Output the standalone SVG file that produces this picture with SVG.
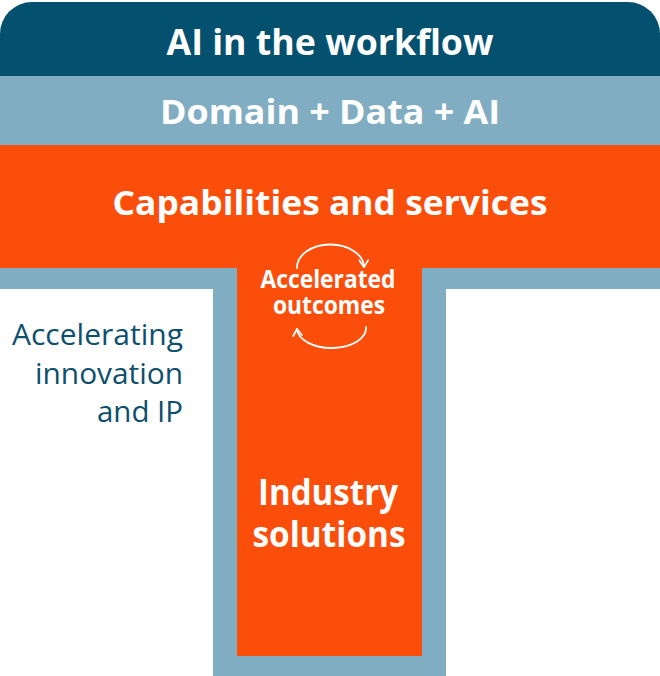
<svg xmlns="http://www.w3.org/2000/svg" width="660" height="676" viewBox="0 0 660 676">
  <style>
    .band-dark { fill: #03506f; }
    .band-light { fill: #80adc1; }
    .band-orange { fill: #fb4e0b; }
    .title { font-family: "Open Sans", "Noto Sans", "Liberation Sans", sans-serif; font-weight: 700; fill: #ffffff; text-anchor: middle; }
    .side { font-family: "Open Sans", "Noto Sans", "Liberation Sans", sans-serif; font-weight: 400; fill: #0e4f6d; text-anchor: end; font-size: 30px; }
    .cycle { fill: none; stroke: #ffffff; stroke-width: 1.8; stroke-linecap: round; }
  </style>
  <defs>
    <marker id="chevron" viewBox="0 0 10 10" refX="8" refY="5" markerWidth="11" markerHeight="11" markerUnits="userSpaceOnUse" orient="auto">
      <path d="M2,1 L8,5 L2,9" fill="none" stroke="#ffffff" stroke-width="1.6" stroke-linecap="round" stroke-linejoin="round"/>
    </marker>
  </defs>

  <rect width="660" height="676" fill="#ffffff"/>

  <!-- Light-blue T frame behind the orange T -->
  <g id="frame">
    <rect class="band-light" x="0" y="268" width="660" height="21"/>
    <rect class="band-light" x="213" y="268" width="233" height="408"/>
  </g>

  <g id="workflow">
    <path class="band-dark" d="M0,34 A32,32 0 0 1 32,2 H628 A32,32 0 0 1 660,34 V76 H0 Z"/>
    <text class="title" x="330" y="55" font-size="36" textLength="327" lengthAdjust="spacingAndGlyphs">AI in the workflow</text>
  </g>

  <g id="domain">
    <rect class="band-light" x="0" y="76" width="660" height="69"/>
    <text class="title" x="330" y="124" font-size="34" textLength="340" lengthAdjust="spacingAndGlyphs">Domain + Data + AI</text>
  </g>

  <!-- Orange stem drawn first so the band text sits on top -->
  <g id="industry">
    <rect class="band-orange" x="237" y="145" width="185" height="511"/>
    <text class="title" x="328" y="505" font-size="35" textLength="140" lengthAdjust="spacingAndGlyphs">Industry</text>
    <text class="title" x="329" y="547" font-size="35" textLength="153" lengthAdjust="spacingAndGlyphs">solutions</text>
  </g>

  <g id="capabilities">
    <rect class="band-orange" x="0" y="145" width="660" height="123"/>
    <text class="title" x="330" y="215" font-size="34" textLength="435" lengthAdjust="spacingAndGlyphs">Capabilities and services</text>
  </g>

  <g id="accelerated">
    <text class="title" x="328" y="288" font-size="25" textLength="135" lengthAdjust="spacingAndGlyphs">Accelerated</text>
    <text class="title" x="329" y="314" font-size="25" textLength="112" lengthAdjust="spacingAndGlyphs">outcomes</text>
  </g>

  <!-- Circular arrows around the accelerated outcomes label -->
  <g id="connectors">
    <path class="cycle" d="M297,268 A33.5,23 0 0 1 364,267" marker-end="url(#chevron)"/>
    <path class="cycle" d="M366,327 A34.5,20 0 0 1 297,329" marker-end="url(#chevron)"/>
  </g>

  <g id="innovation">
    <text class="side" x="183" y="345" textLength="171" lengthAdjust="spacingAndGlyphs">Accelerating</text>
    <text class="side" x="183" y="384" textLength="148" lengthAdjust="spacingAndGlyphs">innovation</text>
    <text class="side" x="183" y="422" textLength="86" lengthAdjust="spacingAndGlyphs">and IP</text>
  </g>
</svg>
